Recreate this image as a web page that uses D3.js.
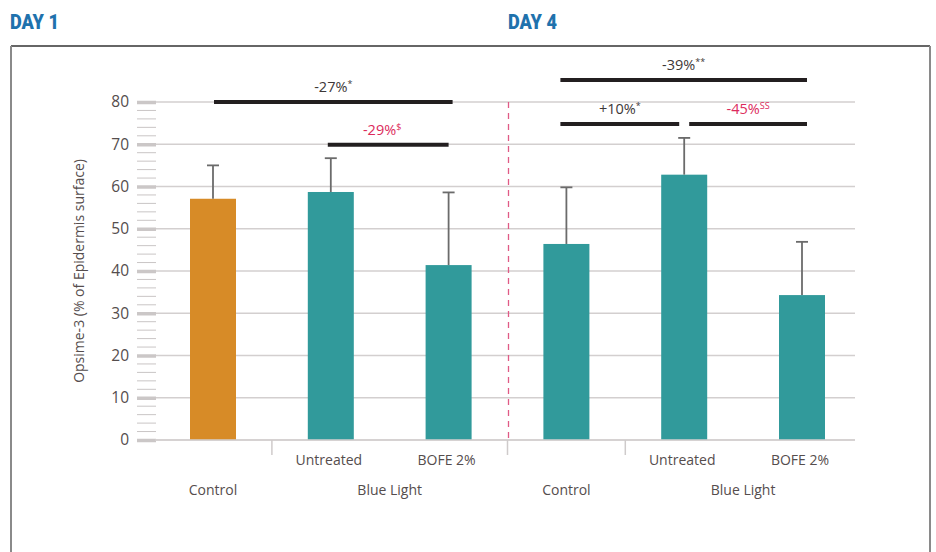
<!DOCTYPE html>
<html>
<head>
<meta charset="utf-8">
<script src="https://cdn.jsdelivr.net/npm/d3@7/dist/d3.min.js"></script>
<style>
  html, body { margin: 0; padding: 0; background: #fff; }
  svg { display: block; }
  text { font-family: "Open Sans", "Noto Sans", sans-serif; }
</style>
</head>
<body>
<svg id="chart" width="936" height="552"></svg>
<script>
// Categories along the x axis (day 1 then day 4)
const groups = ["Control", "Untreated", "BOFE 2%"];
const days = ["DAY 1", "DAY 4"];
const bigGroups = ["Control", "Blue Light"];

// Opsime-3 (% of epidermis surface), mean and standard deviation
const day1Mean = [57.1, 58.7, 41.4];
const day1SD   = [7.9, 8.0, 17.2];
const day4Mean = [46.4, 62.8, 34.3];
const day4SD   = [13.4, 8.7, 12.6];

const yTicks = [0, 10, 20, 30, 40, 50, 60, 70, 80];

// Significance brackets: day, compared groups, bracket level, label and superscript
const brackets = [
  { day: 0, from: 0, to: 2, level: 80,   label: "-27%", sup: "*",  red: false },
  { day: 0, from: 1, to: 2, level: 69.9, label: "-29%", sup: "$",  red: true  },
  { day: 1, from: 0, to: 2, level: 85.2, label: "-39%", sup: "**", red: false },
  { day: 1, from: 0, to: 1, level: 74.8, label: "+10%", sup: "*",  red: false },
  { day: 1, from: 1, to: 2, level: 74.8, label: "-45%", sup: "SS", red: true  }
];

const orange = "#d78b27";
const teal = "#319a9b";
const red = "#dc2a5c";
const textCol = "#554d4d";

const svg = d3.select("#chart");

// Rows of bar data built from the arrays above
const rows = [];
[[day1Mean, day1SD], [day4Mean, day4SD]].forEach(([m, s], d) => {
  groups.forEach((g, i) => rows.push({ key: d + "-" + g, day: d, idx: i, group: g, mean: m[i], sd: s[i] }));
});

const x = d3.scalePoint().domain(rows.map(r => r.key)).range([213, 802]);
const y = d3.scaleLinear().domain([0, 80]).range([440, 102]);
const barW = 46;
const plotL = 155, plotR = 855;
const keyOf = (d, i) => d + "-" + groups[i];

// Outer frame
svg.append("line").attr("x1", 11).attr("x2", 930).attr("y1", 46).attr("y2", 46)
  .attr("stroke", "#333").attr("stroke-width", 1.5);
svg.append("line").attr("x1", 11).attr("x2", 11).attr("y1", 46).attr("y2", 552)
  .attr("stroke", "#8a8a8a").attr("stroke-width", 2);
svg.append("line").attr("x1", 930).attr("x2", 930).attr("y1", 46).attr("y2", 552)
  .attr("stroke", "#8a8a8a").attr("stroke-width", 2);

// Day titles (heavy, condensed)
svg.selectAll("text.day").data(days).join("text")
  .attr("class", "day")
  .attr("x", (d, i) => i === 0 ? 10 : 508)
  .attr("y", 29)
  .attr("fill", "#1f72ad")
  .attr("textLength", 49)
  .attr("lengthAdjust", "spacingAndGlyphs")
  .style("font-family", "'Roboto', 'Open Sans', sans-serif")
  .style("font-weight", "900")
  .style("font-size", "21px")
  .text(d => d);

// Gridlines
svg.append("g").selectAll("line").data(yTicks).join("line")
  .attr("x1", plotL).attr("x2", plotR)
  .attr("y1", d => y(d)).attr("y2", d => y(d))
  .attr("stroke", "#d3cfcf").attr("stroke-width", 1.5);

// Minor y ticks every 2 units
const minor = d3.range(0, 81, 2).filter(v => v % 10 !== 0);
svg.append("g").selectAll("line").data(minor).join("line")
  .attr("x1", 137).attr("x2", 156)
  .attr("y1", d => y(d)).attr("y2", d => y(d))
  .attr("stroke", "#c9c5c5").attr("stroke-width", 1);

// Major y ticks and labels via d3 axis
const yAxis = d3.axisLeft(y).tickValues(yTicks).tickSize(19).tickPadding(8);
const gy = svg.append("g").attr("transform", `translate(156,0)`).call(yAxis);
gy.select(".domain").remove();
gy.selectAll(".tick line").attr("stroke", "#cbc7c7").attr("stroke-width", 3.5);
gy.selectAll(".tick text")
  .attr("fill", textCol)
  .style("font-size", "15.5px")
  .style("font-family", "'Open Sans', sans-serif");

// Y axis title
svg.append("text")
  .attr("transform", "translate(84,271) rotate(-90)")
  .attr("text-anchor", "middle")
  .attr("fill", textCol)
  .style("font-size", "14px")
  .text("Opsime-3 (% of Epidermis surface)");

// Bars
svg.append("g").selectAll("rect").data(rows).join("rect")
  .attr("x", d => x(d.key) - barW / 2)
  .attr("width", barW)
  .attr("y", d => y(d.mean))
  .attr("height", d => y(0) - y(d.mean))
  .attr("fill", d => (d.day === 0 && d.idx === 0) ? orange : teal);

// Error bars (upper only)
const eg = svg.append("g").attr("stroke", "#6b6b6b").attr("stroke-width", 1.8);
eg.selectAll("line.v").data(rows).join("line").attr("class", "v")
  .attr("x1", d => x(d.key)).attr("x2", d => x(d.key))
  .attr("y1", d => y(d.mean)).attr("y2", d => y(d.mean + d.sd));
eg.selectAll("line.c").data(rows).join("line").attr("class", "c")
  .attr("x1", d => x(d.key) - 6).attr("x2", d => x(d.key) + 6)
  .attr("y1", d => y(d.mean + d.sd)).attr("y2", d => y(d.mean + d.sd));

// Bottom baseline
svg.append("line").attr("x1", plotL).attr("x2", plotR).attr("y1", y(0)).attr("y2", y(0))
  .attr("stroke", "#d3cfcf").attr("stroke-width", 1.5);

// Group separator ticks
const seps = [
  (x(keyOf(0, 0)) + x(keyOf(0, 1))) / 2,
  (x(keyOf(0, 2)) + x(keyOf(1, 0))) / 2,
  (x(keyOf(1, 0)) + x(keyOf(1, 1))) / 2
];
svg.append("g").selectAll("line").data(seps).join("line")
  .attr("x1", d => d).attr("x2", d => d)
  .attr("y1", y(0)).attr("y2", y(0) + 15)
  .attr("stroke", "#cfcbcb").attr("stroke-width", 1.5);

// Day divider
svg.append("line")
  .attr("x1", seps[1] + 1).attr("x2", seps[1] + 1)
  .attr("y1", y(80)).attr("y2", y(0))
  .attr("stroke", "#e05a86").attr("stroke-width", 1.3)
  .attr("stroke-dasharray", "6,5");

// Sub-category labels (Untreated / BOFE 2%)
const subRows = rows.filter(r => r.idx > 0);
svg.append("g").selectAll("text").data(subRows).join("text")
  .attr("x", d => x(d.key) - 2)
  .attr("y", 465)
  .attr("text-anchor", "middle")
  .attr("fill", textCol)
  .style("font-size", "14px")
  .text(d => d.group);

// Big group labels (Control / Blue Light)
const bigLabels = [];
[0, 1].forEach(d => {
  bigLabels.push({ text: bigGroups[0], cx: x(keyOf(d, 0)) });
  bigLabels.push({ text: bigGroups[1], cx: (x(keyOf(d, 1)) + x(keyOf(d, 2))) / 2 });
});
svg.append("g").selectAll("text").data(bigLabels).join("text")
  .attr("x", d => d.cx)
  .attr("y", 495)
  .attr("text-anchor", "middle")
  .attr("fill", textCol)
  .style("font-size", "14px")
  .text(d => d.text);

// Significance brackets: span from the first bar's centre to the last,
// trimmed where two brackets sit side by side
const bg = svg.append("g");
brackets.forEach(b => {
  const xa = x(keyOf(b.day, b.from));
  const xb = x(keyOf(b.day, b.to));
  let x1 = xa, x2 = xb;
  if (b.day === 0) { x1 = b.from === 0 ? xa + 1 : xa - 3; x2 = b.from === 0 ? xb + 4 : xb; }
  else {
    x1 = b.from === 0 ? xa - 6 : xa + 5;
    x2 = b.to === 2 ? xb + 5 : xb - 5;
  }
  bg.append("line")
    .attr("x1", x1).attr("x2", x2)
    .attr("y1", y(b.level)).attr("y2", y(b.level))
    .attr("stroke", "#231f20").attr("stroke-width", 4);
  const cx = (b.day === 0 && b.from === 1) ? x1 + (x2 - x1) * 0.45 : (x1 + x2) / 2;
  const t = bg.append("text")
    .attr("x", cx)
    .attr("y", y(b.level) - 10)
    .attr("text-anchor", "middle")
    .attr("fill", b.red ? red : "#3d3737")
    .style("font-size", "14.5px");
  t.append("tspan").text(b.label);
  t.append("tspan").attr("dy", -5).style("font-size", "9px").text(b.sup);
});
</script>
</body>
</html>
